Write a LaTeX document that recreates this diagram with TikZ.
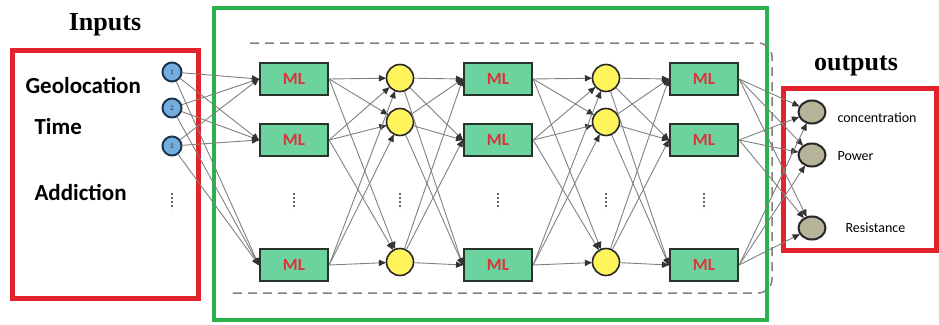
\documentclass[tikz,border=0pt]{standalone}
\usepackage{fontspec}
\setmainfont{Carlito}
\newfontfamily\titlefont{Liberation Serif}
\usetikzlibrary{arrows.meta, positioning, shapes.geometric}
\tikzset{>={Latex[round, length=8pt, width=7pt, color=black!80]}}

\definecolor{boxred}{HTML}{E3232B}
\definecolor{boxgreen}{HTML}{2BB24C}
\definecolor{mlgreen}{HTML}{6CD29E}
\definecolor{mlborder}{HTML}{26342C}
\definecolor{mlred}{HTML}{E0303A}
\definecolor{hidyellow}{HTML}{FFF45C}
\definecolor{inblue}{HTML}{74AEDF}
\definecolor{inkblue}{HTML}{1E3550}
\definecolor{outgray}{HTML}{B6B498}

\begin{document}
\begin{tikzpicture}[x=1pt, y=-1pt,
  every node/.style={font=\fontsize{14}{16}\selectfont},
  inputnode/.style={circle, draw=inkblue, line width=2pt, fill=inblue, minimum size=19pt, inner sep=0pt, text=inkblue, font=\fontsize{7}{7}\selectfont},
  mlbox/.style={rectangle, draw=mlborder, line width=2.4pt, fill=mlgreen, minimum width=68pt, minimum height=32pt, text=mlred, font=\fontsize{17}{17}\selectfont\bfseries},
  hidden/.style={circle, draw=black!85, line width=1.6pt, fill=hidyellow, minimum size=27pt, inner sep=0pt},
  outnode/.style={ellipse, draw=black!85, line width=2pt, fill=outgray, minimum width=27pt, minimum height=23pt, inner sep=0pt},
  link/.style={->, black!50, line width=0.9pt},
  dotline/.style={black!60, line width=1.6pt, dash pattern=on 1.6pt off 2.4pt},
  label/.style={anchor=west, font=\fontsize{23}{24}\selectfont\bfseries},
  outlabel/.style={anchor=west, font=\fontsize{14}{16}\selectfont},
  title/.style={font=\fontsize{26}{28}\selectfont\titlefont\bfseries}
]
\useasboundingbox (0,0) rectangle (939,324);

% Frames
\draw[boxgreen, line width=4pt] (214,8) rectangle (767,320);
\draw[boxred, line width=5pt] (12,50) rectangle (198,298);
\draw[boxred, line width=5pt] (783,88) rectangle (936,250);
\draw[gray, dashed, line width=1.5pt, dash pattern=on 9pt off 6pt, rounded corners=14pt]
  (250,43) -- (772,43) -- (772,293) -- (230,293);

% Titles
\node[title] (intitle) at (105,25) {Inputs};
\node[title] (outtitle) at (856,66) {outputs};

% Input side
\node[inputnode] (inp1) at (172,72) {1};
\node[inputnode] (inp2) at (172,108) {2};
\node[inputnode] (inp3) at (172,146) {3};

\node[label] (geo) at (22,85) {Geolocation};
\node[label] (time) at (31,127) {Time};
\node[label] (addic) at (31,192) {Addiction};

% Layers
\node[mlbox] (mla1) at (294,79) {ML};
\node[mlbox] (mla2) at (294,140) {ML};
\node[mlbox] (mla3) at (294,265) {ML};

\node[hidden] (hida1) at (400,78) {};
\node[hidden] (hida2) at (400,122) {};
\node[hidden] (hida3) at (400,262) {};

\node[mlbox] (mlb1) at (498,79) {ML};
\node[mlbox] (mlb2) at (498,140) {ML};
\node[mlbox] (mlb3) at (498,265) {ML};

\node[hidden] (hidb1) at (606,78) {};
\node[hidden] (hidb2) at (606,122) {};
\node[hidden] (hidb3) at (606,262) {};

\node[mlbox] (mlc1) at (704,79) {ML};
\node[mlbox] (mlc2) at (704,140) {ML};
\node[mlbox] (mlc3) at (704,265) {ML};

% Vertical dots under each column
\foreach \x in {172,294,400,498,606,704}
  \draw[dotline] (\x,193) -- (\x,209);

% Outputs
\node[outnode] (out1) at (812,112) {};
\node[outnode] (out2) at (812,155) {};
\node[outnode] (out3) at (812,228) {};
\node[outlabel] (conc) at (834,118) {concentration};
\node[outlabel] (power) at (834,156) {Power};
\node[outlabel] (resis) at (842,228) {Resistance};

% Full connections between layers
\foreach \s in {1,2,3}{
  \foreach \t in {1,2,3}{
    \draw[link] (inp\s) -- (mla\t.west);
    \draw[link] (mla\s.east) -- (hida\t);
    \draw[link] (hida\s) -- (mlb\t.west);
    \draw[link] (mlb\s.east) -- (hidb\t);
    \draw[link] (hidb\s) -- (mlc\t.west);
    \draw[link] (mlc\s.east) -- (out\t);
  }
}

\end{tikzpicture}
\end{document}
